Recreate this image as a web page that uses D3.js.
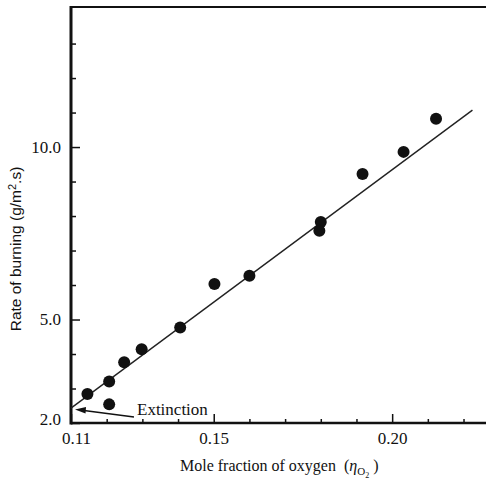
<!DOCTYPE html>
<html>
<head>
<meta charset="utf-8">
<script src="https://cdn.jsdelivr.net/npm/d3@7"></script>
<style>
  html, body { margin: 0; padding: 0; background: #fff; }
  svg { display: block; }
</style>
</head>
<body>
<svg id="chart" width="486" height="486"></svg>
<script>
// Burning rate against oxygen mole fraction
const oxygenFraction = [0.1146, 0.1207, 0.1207, 0.1249, 0.1298, 0.1406, 0.1502, 0.1600, 0.1800, 0.1796, 0.1917, 0.2032, 0.2123];
const burningRate    = [2.84,   3.20,   2.54,   3.76,   4.14,   4.77,   6.03,   6.27,   7.83,   7.57,   9.22,   9.86,   10.82];

// Fitted line end points
const fitX = [0.110, 0.2225];
const fitY = [2.43, 11.07];

// Axis ticks
const xMinorTicks = [0.12, 0.13, 0.14, 0.16, 0.17, 0.18, 0.19, 0.21, 0.22];
const xMajorTicks = [0.11, 0.15, 0.20];
const yMinorTicks = [3, 4, 6, 7, 8, 9, 11, 12, 13];
const yMajorTicks = [2, 5, 10];

const SERIF = "'Liberation Serif', 'DejaVu Serif', serif";
const svg = d3.select("#chart");

const x = d3.scaleLinear().domain([0.11, 0.2263]).range([71, 486]);
const y = d3.scaleLinear().domain([2, 14.06]).range([423, 7]);

// Frame: top border line
svg.append("line")
  .attr("x1", x(0.11)).attr("x2", 486)
  .attr("y1", y(14.06)).attr("y2", y(14.06))
  .attr("stroke", "#111").attr("stroke-width", 2);

// X axis (ticks point inward)
const gx = svg.append("g").attr("transform", `translate(0,${y(2)})`);
gx.call(d3.axisBottom(x).tickValues(xMinorTicks).tickSize(-4).tickFormat(""));
const gx2 = svg.append("g").attr("transform", `translate(0,${y(2)})`);
gx2.call(d3.axisBottom(x).tickValues(xMajorTicks).tickSize(-9).tickPadding(9).tickFormat(d3.format(".2f")));
[gx, gx2].forEach(g => {
  g.select(".domain").remove();
  g.selectAll(".tick line").attr("stroke", "#111").attr("stroke-width", 1.5);
});
gx2.selectAll(".tick text")
  .attr("font-family", SERIF)
  .attr("font-size", 17).attr("fill", "#111")
  .attr("dx", d => d === 0.11 ? 5 : 0);

// Y axis (ticks point inward)
const gy = svg.append("g").attr("transform", `translate(${x(0.11)},0)`);
gy.call(d3.axisLeft(y).tickValues(yMinorTicks).tickSize(-5).tickFormat(""));
const gy2 = svg.append("g").attr("transform", `translate(${x(0.11)},0)`);
gy2.call(d3.axisLeft(y).tickValues(yMajorTicks).tickSize(-9).tickPadding(10).tickFormat(d3.format(".1f")));
[gy, gy2].forEach(g => {
  g.select(".domain").remove();
  g.selectAll(".tick line").attr("stroke", "#111").attr("stroke-width", 1.5);
});
gy2.selectAll(".tick text")
  .attr("font-family", SERIF)
  .attr("font-size", 17).attr("fill", "#111")
  .attr("dy", d => d === 2 ? "0.1em" : "0.32em");

// Axis lines
svg.append("line")
  .attr("x1", x(0.11)).attr("x2", x(0.11))
  .attr("y1", y(14.06) - 1).attr("y2", y(2) + 1.5)
  .attr("stroke", "#111").attr("stroke-width", 3);
svg.append("line")
  .attr("x1", x(0.11)).attr("x2", 486)
  .attr("y1", y(2)).attr("y2", y(2))
  .attr("stroke", "#111").attr("stroke-width", 2.5);

// Fitted line
svg.append("line")
  .attr("x1", x(fitX[0])).attr("y1", y(fitY[0]))
  .attr("x2", x(fitX[1])).attr("y2", y(fitY[1]))
  .attr("stroke", "#222").attr("stroke-width", 1.4);

// Data points
svg.append("g").selectAll("circle")
  .data(oxygenFraction.map((v, i) => [v, burningRate[i]]))
  .join("circle")
  .attr("cx", d => x(d[0]))
  .attr("cy", d => y(d[1]))
  .attr("r", 6)
  .attr("fill", "#111");

// Extinction annotation with arrow
svg.append("line")
  .attr("x1", 134).attr("y1", 417)
  .attr("x2", 84).attr("y2", 410.5)
  .attr("stroke", "#111").attr("stroke-width", 1.4);
svg.append("path")
  .attr("d", "M75,409.5 L86,407 L85.5,413.5 Z")
  .attr("fill", "#111");
svg.append("text")
  .attr("x", 137).attr("y", 415)
  .attr("font-family", SERIF)
  .attr("font-size", 17).attr("fill", "#111")
  .text("Extinction");

// Axis titles
const xt = svg.append("text")
  .attr("x", 180).attr("y", 471)
  .attr("font-family", SERIF)
  .attr("font-size", 16).attr("fill", "#111");
xt.append("tspan").text("Mole fraction of oxygen\u00a0\u00a0(");
xt.append("tspan").attr("font-style", "italic").text("\u03b7");
xt.append("tspan").attr("font-size", 11).attr("dy", 4).text("O");
xt.append("tspan").attr("font-size", 8).attr("dy", 3).text("2");
xt.append("tspan").attr("dy", -7).text("\u00a0)");

const yt = svg.append("text")
  .attr("transform", "translate(21,249) rotate(-90)")
  .attr("text-anchor", "middle")
  .attr("font-family", "'Liberation Sans', Arial, sans-serif")
  .attr("font-size", 15.5).attr("fill", "#111");
yt.append("tspan").text("Rate of burning (g/m");
yt.append("tspan").attr("font-size", 11).attr("dy", -5).text("2");
yt.append("tspan").attr("dy", 5).text(".s)");
</script>
</body>
</html>
